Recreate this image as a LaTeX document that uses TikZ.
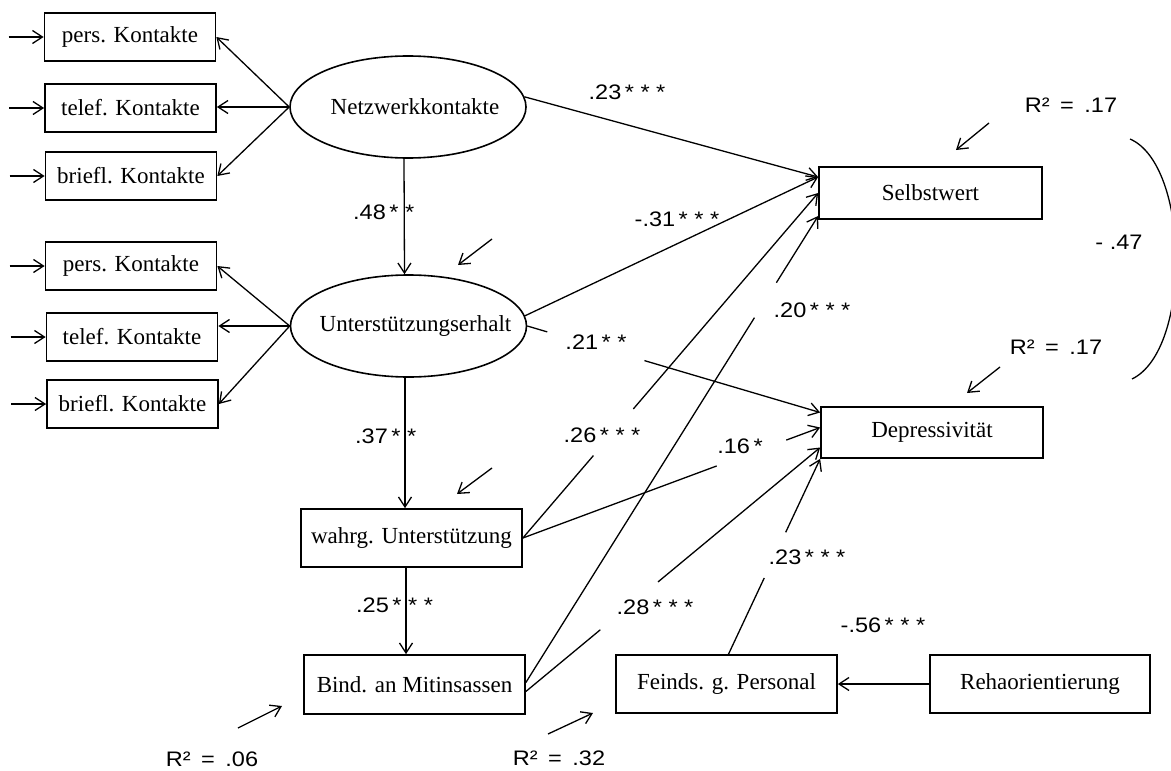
\documentclass[tikz,border=0pt]{standalone}
\usepackage{fontspec}
\setmainfont{Liberation Serif}
\newfontfamily\labfont[FakeStretch=1.12]{Liberation Sans}
\usetikzlibrary{arrows.meta,shapes.geometric,calc}

\begin{document}
\begin{tikzpicture}[x=1pt,y=-1pt,
  link/.style={line width=1.3pt},
  arr/.style={line width=1.3pt,-{Straight Barb[length=10pt,width=13pt]}},
  box/.style={draw,line width=1.7pt,inner sep=0pt,font=\fontsize{23}{27}\selectfont},
  ind/.style={box,minimum width=171pt,minimum height=48pt},
  var/.style={box,minimum width=221pt,minimum height=58pt},
  latent/.style={draw,ellipse,line width=1.6pt,minimum width=236pt,minimum height=102pt,inner sep=0pt,
    label={[font=\fontsize{23}{27}\selectfont,xshift=7pt]center:#1}},
  coef/.style={font=\labfont\fontsize{21}{24}\selectfont,inner sep=0pt}]

\useasboundingbox (0,0) rectangle (1171,771);

% indicator boxes
\node[ind] (p1) at (130,37)    {pers. Kontakte};
\node[ind] (t1) at (130.5,108) {telef. Kontakte};
\node[ind] (b1) at (131,176)   {briefl. Kontakte};
\node[ind] (p2) at (131,266)   {pers. Kontakte};
\node[ind] (t2) at (132,337)   {telef. Kontakte};
\node[ind] (b2) at (132.5,404) {briefl. Kontakte};

% latent variables
\node[latent=Netzwerkkontakte]     (N) at (408,107)   {};
\node[latent=Unterstützungserhalt] (U) at (408.5,326) {};

% manifest variables
\node[var] (W) at (411.5,538) {wahrg. Unterstützung};
\node[var,minimum height=59pt] (B) at (414.5,684.5) {Bind. an Mitinsassen};
\node[var] (F) at (726.5,684) {Feinds. g. Personal};
\node[var,minimum width=220pt] (R) at (1040,684) {Rehaorientierung};
\node[var,minimum width=223pt,minimum height=52pt] (S) at (930.5,193) {Selbstwert};
\node[var,minimum width=222pt,minimum height=51pt] (D) at (932,432.5) {Depressivität};

% measurement errors of the indicators
\foreach \n in {p1,t1,b1,p2,t2,b2}
  \draw[arr] ([xshift=-35pt]\n.west) -- (\n.west);

% loadings
\draw[arr] (N.west) -- (p1.east);
\draw[arr] (N.west) -- (N.west -| t1.east);
\draw[arr] (N.west) -- (b1.east);
\draw[arr] (U.west) -- (p2.east);
\draw[arr] (U.west) -- (U.west -| t2.east);
\draw[arr] (U.west) -- (b2.east);

% vertical chain
\draw[arr] ([xshift=-4pt]N.south) -- ([xshift=-4pt]U.north);
\coordinate (v1) at ($(U.south)+(-3.5,0)$);
\draw[arr] (v1) -- (v1 |- W.north);
\coordinate (v2) at ($(W.south)+(-5.5,0)$);
\draw[arr] (v2) -- (v2 |- B.north);

% paths to Selbstwert
\draw[arr] (N.5) -- ([yshift=16pt]S.west);
\draw[arr] (U.5) -- ([yshift=16pt]S.west);
\path (W.east) -- (S.west) coordinate[pos=.239] (ws1) coordinate[pos=.374] (ws2);
\draw[link] (W.east) -- (ws1);
\draw[arr] (ws2) -- (S.west);
\path ([yshift=2pt]B.east) -- ([yshift=-23pt]S.west) coordinate[pos=.782] (bs1) coordinate[pos=.857] (bs2);
\draw[link] ([yshift=2pt]B.east) -- (bs1);
\draw[arr] (bs2) -- ([yshift=-23pt]S.west);

% paths to Depressivität
\path (U.east) -- ([yshift=20pt]D.west) coordinate[pos=.068] (ud1) coordinate[pos=.40] (ud2);
\draw[link] (U.east) -- (ud1);
\draw[arr] (ud2) -- ([yshift=20pt]D.west);
\path (W.east) -- ([yshift=5pt]D.west) coordinate[pos=.652] (wd1) coordinate[pos=.886] (wd2);
\draw[link] (W.east) -- (wd1);
\draw[arr] (wd2) -- ([yshift=5pt]D.west);
\path ([yshift=-7pt]B.east) -- ([yshift=-15pt]D.west) coordinate[pos=.253] (bd1) coordinate[pos=.449] (bd2);
\draw[link] ([yshift=-7pt]B.east) -- (bd1);
\draw[arr] (bd2) -- ([yshift=-15pt]D.west);
\path ([xshift=2pt]F.north) -- (D.south west) coordinate[pos=.39] (fd1) coordinate[pos=.624] (fd2);
\draw[link] ([xshift=2pt]F.north) -- (fd1);
\draw[arr] (fd2) -- (D.south west);

% Rehaorientierung to Feindseligkeit
\draw[arr] (R.west) -- (F.east);

% residual arrows
\coordinate (eU1) at (492,239);  \coordinate (eU2) at (458,265);
\coordinate (eW1) at (492,468);  \coordinate (eW2) at (457,494);
\coordinate (eB1) at (238,728);  \coordinate (eB2) at (282,706);
\coordinate (eF1) at (548,734);  \coordinate (eF2) at (593,713);
\coordinate (eS1) at (989,123);  \coordinate (eS2) at (956,150);
\coordinate (eD1) at (1000,367); \coordinate (eD2) at (967,393);
\foreach \e in {U,W,B,F,S,D}
  \draw[arr] (e\e1) -- (e\e2);

% residual correlation
\coordinate (c1) at (1130,139);
\coordinate (c2) at (1132,379);
\draw[link] (c1) .. controls (1190,165) and (1192,350) .. (c2);

% coefficients
\node[coef,anchor=west] (k48) at (353,212) {.48\,* *};
\node[coef,anchor=west] (k37) at (355,436) {.37\,* *};
\node[coef,anchor=west] (k25) at (356,605) {.25\,* * *};
\node[coef] (k23a) at (627,92)  {.23\,* * *};
\node[coef] (k31)  at (677,219) {-.31\,* * *};
\node[coef] (k21)  at (596,342) {.21\,* *};
\node[coef] (k20)  at (812,310) {.20\,* * *};
\node[coef] (k26)  at (602,435) {.26\,* * *};
\node[coef] (k16)  at (740,446) {.16\,*};
\node[coef] (k28)  at (655,607) {.28\,* * *};
\node[coef] (k23b) at (807,557) {.23\,* * *};
\node[coef] (k56)  at (883,625) {-.56\,* * *};
\node[coef] (k47)  at (1119,242) {- .47};

% explained variance
\node[coef] (rS) at (1071,105) {R²\enspace=\enspace.17};
\node[coef] (rD) at (1056,347) {R²\enspace=\enspace.17};
\node[coef] (rB) at (212,759)  {R²\enspace=\enspace.06};
\node[coef] (rF) at (559,758)  {R²\enspace=\enspace.32};

\end{tikzpicture}
\end{document}
